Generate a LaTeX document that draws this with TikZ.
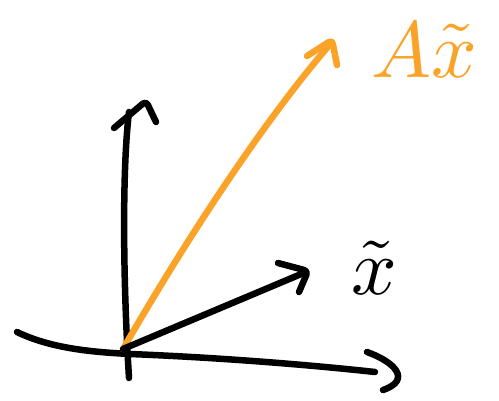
\documentclass[tikz,border=0pt]{standalone}
\usepackage{amsmath}
\usepackage{graphicx}
\definecolor{sketchorange}{RGB}{250,163,40}
\tikzset{
  pen/.style={line width=6.5pt, line cap=round, line join=round},
  blackpen/.style={pen, draw=black},
  orangepen/.style={pen, draw=sketchorange},
  bigtext/.style={inner sep=0pt}
}
\begin{document}
\begin{tikzpicture}[x=1pt,y=-1pt]
\useasboundingbox (0,0) rectangle (499,400);
\coordinate (O) at (123,349);
% vertical axis
\draw[blackpen] (129,378) .. controls (123,280) and (122,170) .. (129,112);
\draw[blackpen, rounded corners=4pt] (114,128) -- (146,101) -- (156,122);
% horizontal axis
\draw[blackpen] (17,332) .. controls (50,348) and (90,352) .. (130,354)
  .. controls (230,358) and (320,366) .. (375,372);
\draw[blackpen] (367,352) .. controls (395,362) and (412,380) .. (383,390);
% orange vector A x
\draw[orangepen] (O) .. controls (180,250) and (260,125) .. (332,42);
\draw[orangepen, rounded corners=4pt] (307,56) -- (332,40) -- (337,65);
% black vector x
\draw[blackpen] (O) -- (306,272);
\draw[blackpen, rounded corners=4pt] (278,263) -- (308,271) -- (299,292);
% labels
\node[bigtext] (xlabel) at (374,268) {\scalebox{8}{$\tilde{x}$}};
\node[bigtext, text=sketchorange] (axlabel) at (424,50) {\scalebox{8}{$A\tilde{x}$}};
\end{tikzpicture}
\end{document}
